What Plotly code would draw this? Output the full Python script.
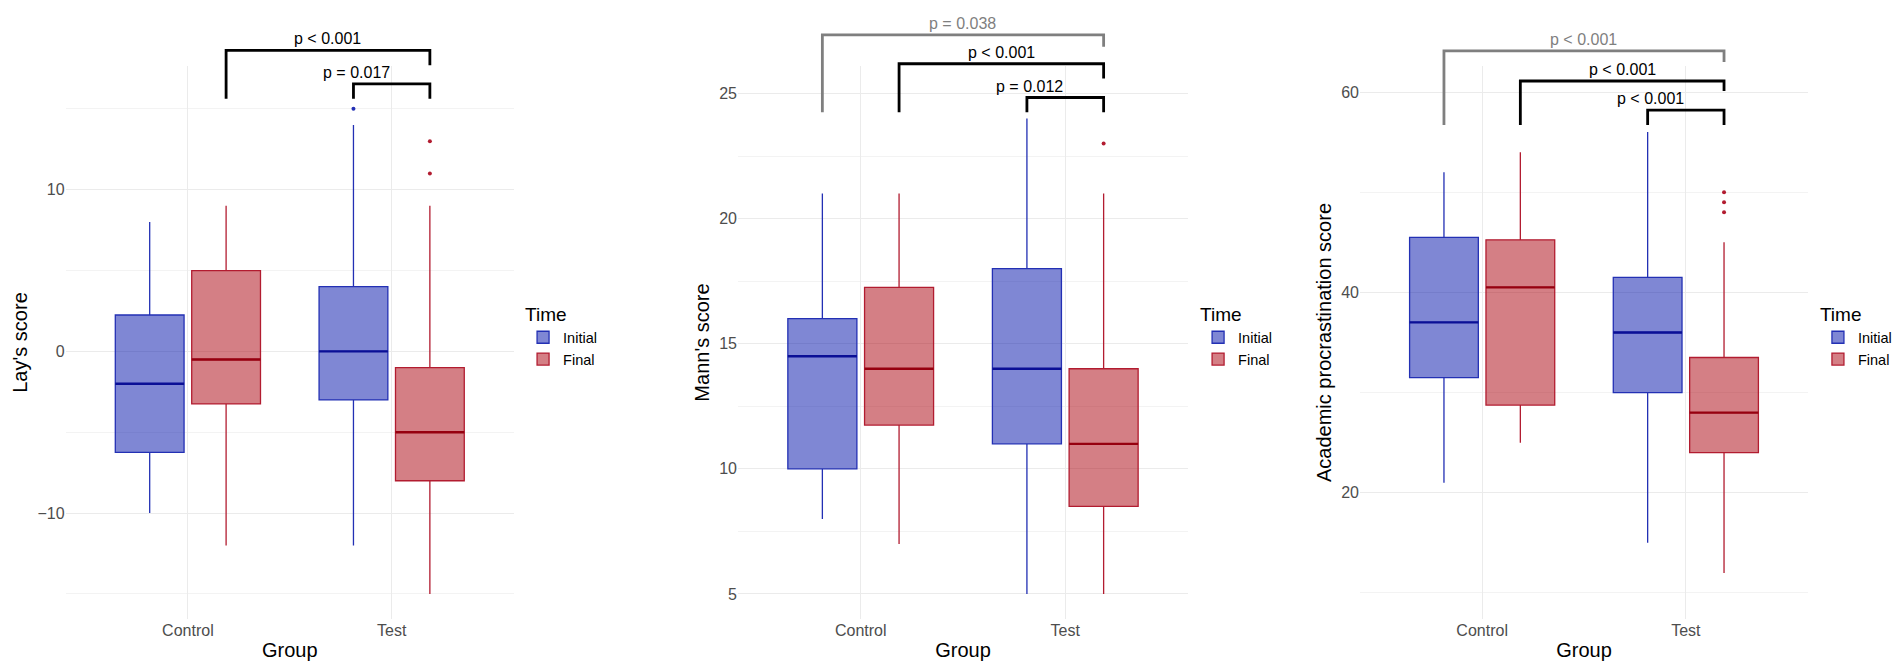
import plotly.graph_objects as go

FONT = "Liberation Sans, Arial, sans-serif"

groups = ["Control", "Test"]
times = ["Initial", "Final"]

# box summaries per group: lower whisker, Q1, median, Q3, upper whisker
lay_initial = [[-10, -6.25, -2, 2.25, 8], [-12, -3, 0, 4, 14]]
lay_final = [[-12, -3.25, -0.5, 5, 9], [-15, -8, -5, -1, 9]]
lay_initial_out = [[], [15]]
lay_final_out = [[], [13, 11]]

mann_initial = [[8, 10, 14.5, 16, 21], [5, 11, 14, 18, 24]]
mann_final = [[7, 11.75, 14, 17.25, 21], [5, 8.5, 11, 14, 21]]
mann_initial_out = [[], []]
mann_final_out = [[], [23]]

apc_initial = [[21, 31.5, 37, 45.5, 52], [15, 30, 36, 41.5, 56]]
apc_final = [[25, 28.75, 40.5, 45.25, 54], [12, 24, 28, 33.5, 45]]
apc_initial_out = [[], []]
apc_final_out = [[], [50, 49, 48]]

# significance brackets: ((group, time) from, (group, time) to), label, top, tip ends
lay_pairs = [((0, 1), (1, 1)), ((1, 0), (1, 1))]
lay_labels = ["p < 0.001", "p = 0.017"]
lay_tops = [18.62, 16.54]
lay_tips = [(15.62, 17.7), (15.62, 15.62)]

mann_pairs = [((0, 0), (1, 1)), ((0, 1), (1, 1)), ((1, 0), (1, 1))]
mann_labels = ["p = 0.038", "p < 0.001", "p = 0.012"]
mann_tops = [27.34, 26.19, 24.84]
mann_tips = [(24.25, 26.87), (24.25, 25.6), (24.25, 24.25)]

apc_pairs = [((0, 0), (1, 1)), ((0, 1), (1, 1)), ((1, 0), (1, 1))]
apc_labels = ["p < 0.001", "p < 0.001", "p < 0.001"]
apc_tops = [64.1, 61.1, 58.2]
apc_tips = [(56.7, 63.0), (56.7, 60.1), (56.7, 56.7)]

panels = [
    dict(title="Lay's score", initial=lay_initial, final=lay_final,
         initial_out=lay_initial_out, final_out=lay_final_out,
         pairs=lay_pairs, labels=lay_labels, tops=lay_tops, tips=lay_tips,
         bracket_colors=["black", "black"],
         yrange=[-16.55, 17.65], dtick=10, minor=5,
         domain=[0.0303, 0.2660], legend_x=0.2708),
    dict(title="Mann's score", initial=mann_initial, final=mann_final,
         initial_out=mann_initial_out, final_out=mann_final_out,
         pairs=mann_pairs, labels=mann_labels, tops=mann_tops, tips=mann_tips,
         bracket_colors=["#7f7f7f", "black", "black"],
         yrange=[4.0, 26.1], dtick=5, minor=2.5,
         domain=[0.3838, 0.6204], legend_x=0.6257),
    dict(title="Academic procrastination score", initial=apc_initial, final=apc_final,
         initial_out=apc_initial_out, final_out=apc_final_out,
         pairs=apc_pairs, labels=apc_labels, tops=apc_tops, tips=apc_tips,
         bracket_colors=["#7f7f7f", "black", "black"],
         yrange=[7.4, 62.6], dtick=20, minor=10,
         domain=[0.7108, 0.9464], legend_x=0.9516),
]

fill = {"Initial": "rgba(0,16,170,0.5)", "Final": "rgba(170,0,12,0.5)"}
edge = {"Initial": "rgb(35,48,180)", "Final": "rgb(178,28,48)"}
med_col = {"Initial": "rgb(10,15,150)", "Final": "rgb(150,0,15)"}

DODGE = 0.1875
BOXW = 0.3375
XRANGE = [-0.6, 1.6]
YDOM = [0.0812, 0.9128]


def xpos(g, t):
    return g + (2 * t - 1) * DODGE


def frac(v, rng):
    return (v - rng[0]) / (rng[1] - rng[0])


fig = go.Figure()
shapes = []
annotations = []

for i, p in enumerate(panels):
    n = "" if i == 0 else str(i + 1)
    xa, ya = "x" + n, "y" + n
    leg = "legend" + n

    for t, tname in enumerate(times):
        stats = p["initial"] if t == 0 else p["final"]
        outs = p["initial_out"] if t == 0 else p["final_out"]
        xs = [xpos(g, t) for g in range(len(groups))]
        fig.add_trace(go.Box(
            x=xs, lowerfence=[s[0] for s in stats], q1=[s[1] for s in stats],
            median=[s[2] for s in stats], q3=[s[3] for s in stats],
            upperfence=[s[4] for s in stats], width=BOXW, boxpoints=False,
            name=tname, fillcolor=fill[tname], line=dict(color=edge[tname], width=1.3),
            whiskerwidth=0, xaxis=xa, yaxis=ya, legend=leg, hoverinfo="skip"))
        mx, my = [], []
        for x, s in zip(xs, stats):
            mx += [x - BOXW / 2, x + BOXW / 2, None]
            my += [s[2], s[2], None]
        fig.add_trace(go.Scatter(x=mx, y=my, mode="lines", showlegend=False,
                                 line=dict(color=med_col[tname], width=2.3),
                                 xaxis=xa, yaxis=ya, hoverinfo="skip"))
        ox, oy = [], []
        for x, o in zip(xs, outs):
            ox += [x] * len(o)
            oy += o
        if oy:
            fig.add_trace(go.Scatter(x=ox, y=oy, mode="markers", showlegend=False,
                                     marker=dict(color=edge[tname], size=4),
                                     xaxis=xa, yaxis=ya, hoverinfo="skip"))

    # brackets drawn in domain units so they are not clipped above the panel
    for (a, b), lab, top, (tl, tr), col in zip(p["pairs"], p["labels"], p["tops"],
                                              p["tips"], p["bracket_colors"]):
        x1 = frac(xpos(*a), XRANGE)
        x2 = frac(xpos(*b), XRANGE)
        yt = frac(top, p["yrange"])
        y1 = frac(tl, p["yrange"])
        y2 = frac(tr, p["yrange"])
        shapes.append(dict(type="path", xref=xa + " domain", yref=ya + " domain",
                           path=f"M {x1},{y1} L {x1},{yt} L {x2},{yt} L {x2},{y2}",
                           line=dict(color=col, width=2.8), layer="above"))
        annotations.append(dict(text=lab, xref=xa + " domain", yref=ya + " domain",
                                x=(x1 + x2) / 2, y=yt, yanchor="bottom", yshift=1,
                                showarrow=False,
                                font=dict(family=FONT, size=16, color=col)))

    axis_x = dict(domain=p["domain"], anchor=ya, range=XRANGE, tickvals=[0, 1],
                  ticktext=groups, showgrid=True, gridcolor="#ebebeb", gridwidth=1,
                  zeroline=False, showline=False, ticks="",
                  tickfont=dict(family=FONT, size=16, color="#4d4d4d"),
                  title=dict(text="Group", font=dict(family=FONT, size=20, color="black"),
                             standoff=4))
    axis_y = dict(domain=YDOM, anchor=xa, range=p["yrange"], dtick=p["dtick"], tick0=0,
                  showgrid=True, gridcolor="#ebebeb", gridwidth=1, zeroline=False,
                  showline=False, ticks="",
                  minor=dict(dtick=p["minor"], tick0=0, showgrid=True,
                             gridcolor="#f3f3f3", gridwidth=1),
                  tickfont=dict(family=FONT, size=16, color="#4d4d4d"),
                  title=dict(text=p["title"], font=dict(family=FONT, size=20, color="black"),
                             standoff=4))
    legend = dict(title=dict(text="Time", font=dict(family=FONT, size=19, color="black")),
                  font=dict(family=FONT, size=14.5, color="black"),
                  x=p["legend_x"], y=0.566, xanchor="left", yanchor="top",
                  bgcolor="rgba(0,0,0,0)", tracegroupgap=0)
    fig.update_layout({"xaxis" + n: axis_x, "yaxis" + n: axis_y, "legend" + n: legend})

fig.update_layout(
    width=1902, height=665,
    margin=dict(l=0, r=0, t=0, b=0),
    paper_bgcolor="white", plot_bgcolor="white",
    boxmode="overlay",
    shapes=shapes, annotations=annotations,
    font=dict(family=FONT),
)

fig.write_html("out.html")
